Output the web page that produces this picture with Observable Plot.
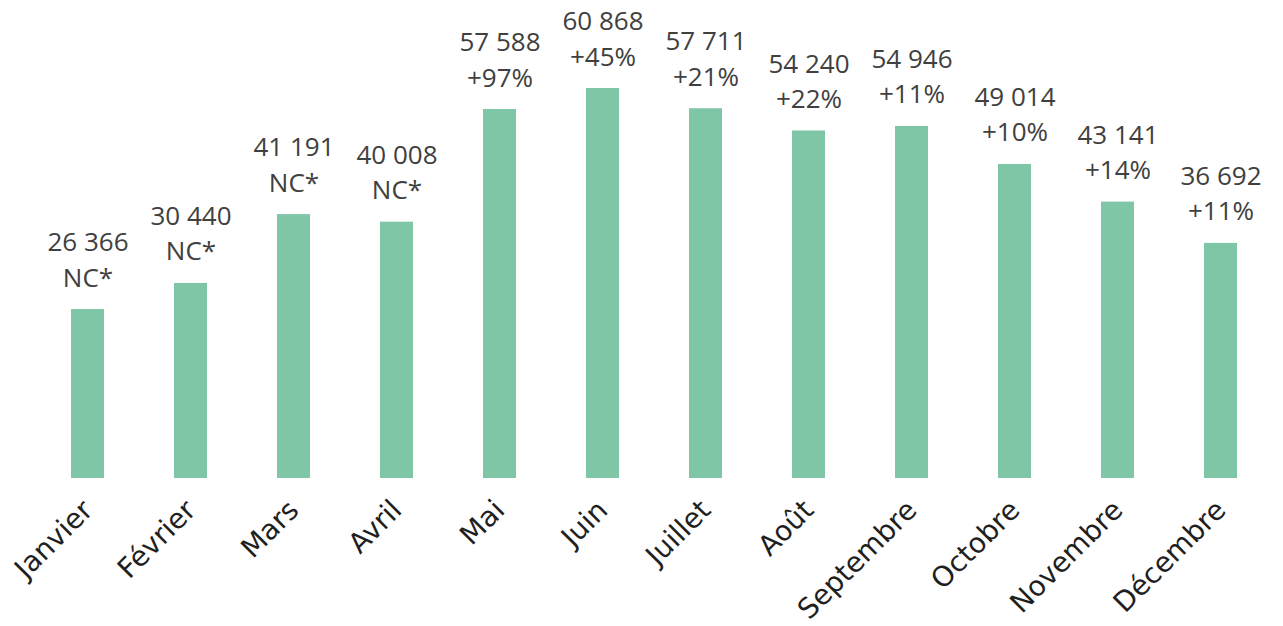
<!DOCTYPE html>
<html>
<head>
<meta charset="utf-8">
<script src="https://cdn.jsdelivr.net/npm/d3@7"></script>
<script src="https://cdn.jsdelivr.net/npm/@observablehq/plot@0.6"></script>
<style>
  html, body { margin: 0; padding: 0; background: #ffffff; }
  #chart svg { display: block; }
</style>
</head>
<body>
<div id="chart"></div>
<script>
const months = ["Janvier", "Février", "Mars", "Avril", "Mai", "Juin", "Juillet", "Août", "Septembre", "Octobre", "Novembre", "Décembre"];
const values = [26366, 30440, 41191, 40008, 57588, 60868, 57711, 54240, 54946, 49014, 43141, 36692];
const changes = ["NC*", "NC*", "NC*", "NC*", "+97%", "+45%", "+21%", "+22%", "+11%", "+10%", "+14%", "+11%"];

const fr = d3.formatLocale({decimal: ",", thousands: " ", grouping: [3], currency: ["", " €"]});
const fmt = fr.format(",d");

const data = months.map((m, i) => ({month: m, value: values[i], change: changes[i]}));

const chart = Plot.plot({
  width: 1283,
  height: 626,
  marginLeft: 32,
  marginRight: 7,
  marginTop: 88,
  marginBottom: 148,
  style: {background: "#ffffff"},
  x: {domain: months, padding: 0},
  y: {domain: [0, d3.max(values)], axis: null},
  marks: [
    Plot.barY(data, {x: "month", y: "value", fill: "#7fc6a7", insetLeft: 35, insetRight: 35}),
    Plot.text(data, {
      x: "month", y: "value",
      text: d => fmt(d.value) + "\n" + d.change,
      lineAnchor: "bottom", lineHeight: 1.36, dy: -23,
      fontSize: 26, fontFamily: "Open Sans", fill: "#404040"
    }),
    Plot.axisX({
      tickSize: 0, tickRotate: -45, tickPadding: 27,
      fontSize: 28, fontFamily: "DejaVu Sans", color: "#1f1f1f", label: null
    })
  ]
});
document.getElementById("chart").append(chart);
</script>
</body>
</html>
